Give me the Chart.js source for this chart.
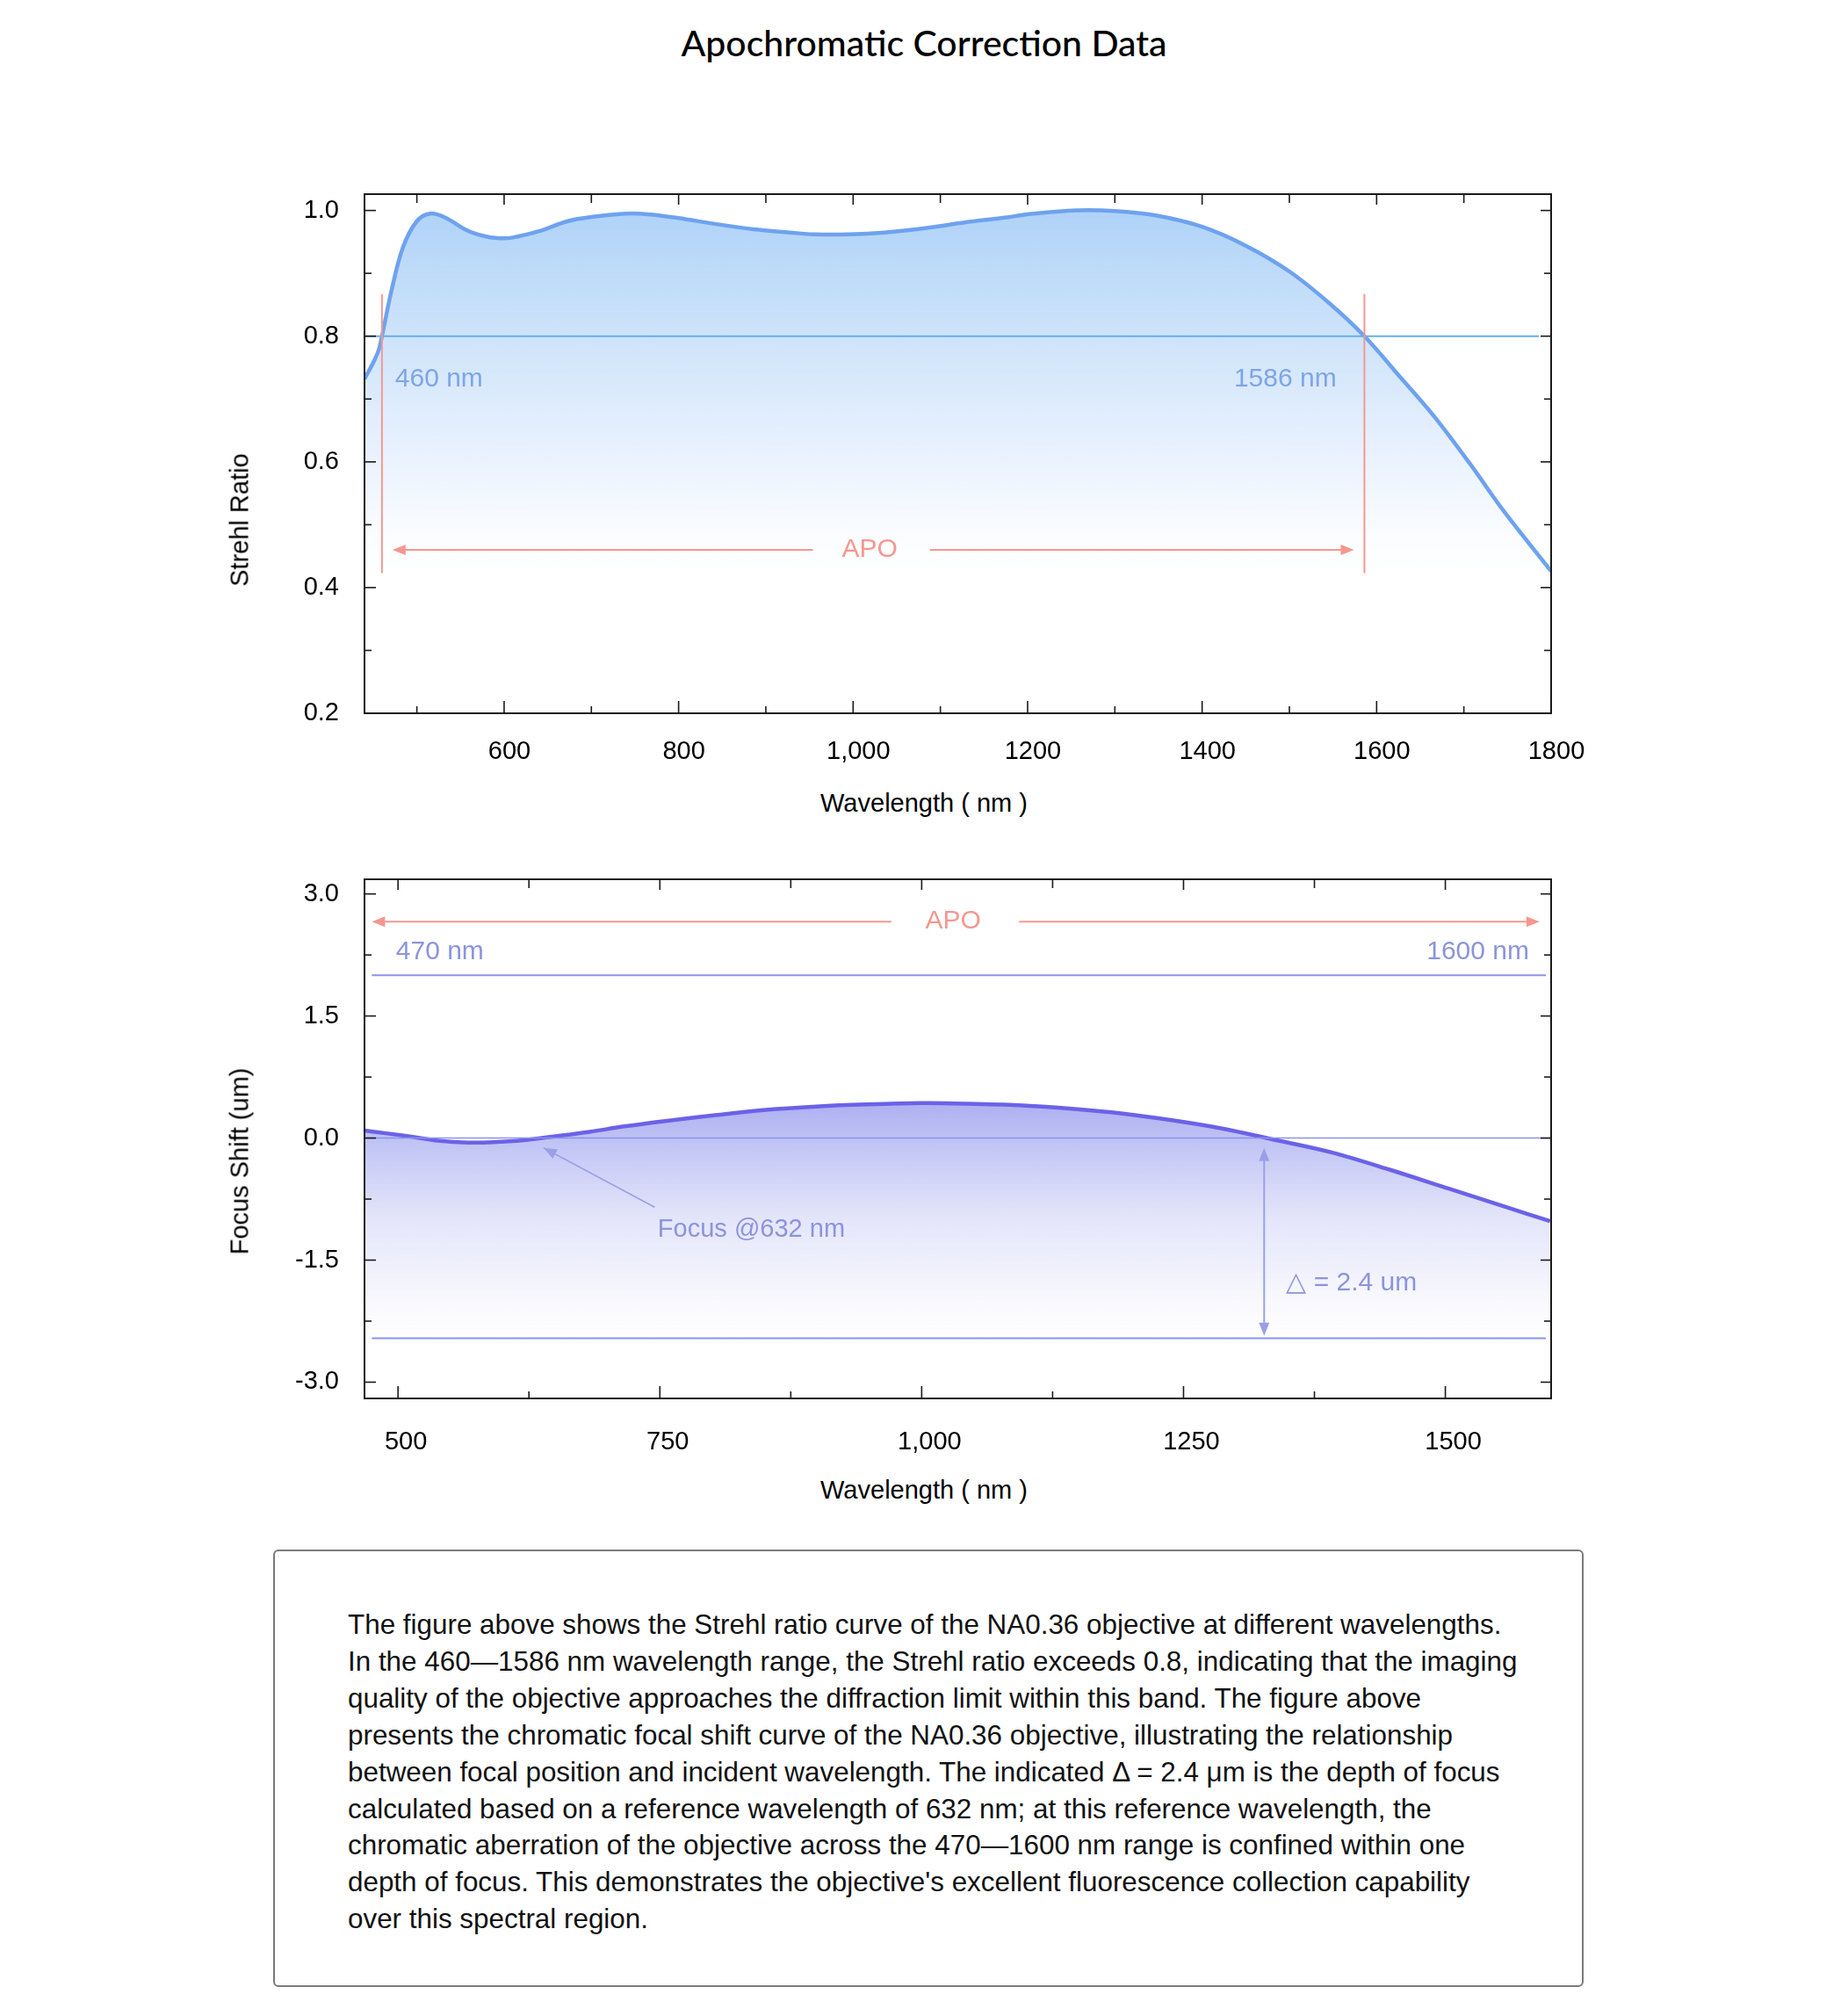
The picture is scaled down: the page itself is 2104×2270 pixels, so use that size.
<!DOCTYPE html>
<html>
<head>
<meta charset="utf-8">
<title>Apochromatic Correction Data</title>
<script src="https://cdn.jsdelivr.net/npm/chart.js@4.4.1/dist/chart.umd.min.js"></script>
<style>
  html, body { margin: 0; padding: 0; background: #fff; }
  body { width: 2104px; height: 2270px; position: relative; overflow: hidden; font-family: "Liberation Sans", Arial, sans-serif; color: #000; }
  .title { position: absolute; left: 0; width: 2104px; top: 24px; text-align: center; font-family: Lato, "Noto Sans", sans-serif; font-size: 41px; font-weight: 500; }
  canvas { position: absolute; left: 0; }
  .xtitle { position: absolute; left: 0; width: 2104px; text-align: center; font-size: 29px; }
  .ytitle { position: absolute; font-size: 29px; white-space: nowrap; transform: translate(-50%, -50%) rotate(-90deg); }
  .note { position: absolute; left: 311px; top: 1764px; width: 1492px; height: 498px; border: 2px solid #7a7a7a; border-radius: 6px; box-sizing: border-box; padding: 63px 0 0 83px; font-size: 31.4px; line-height: 41.9px; color: #111; white-space: nowrap; }
</style>
</head>
<body>
<div class="title">Apochromatic Correction Data</div>

<canvas id="strehl" width="2104" height="732" style="top:150px"></canvas>
<div class="ytitle" style="left:273px; top:592px">Strehl Ratio</div>
<div class="xtitle" style="top:898px">Wavelength ( nm )</div>

<canvas id="focus" width="2104" height="732" style="top:930px"></canvas>
<div class="ytitle" style="left:273px; top:1322px">Focus Shift (um)</div>
<div class="xtitle" style="top:1680px">Wavelength ( nm )</div>

<div class="note">
The figure above shows the Strehl ratio curve of the NA0.36 objective at different wavelengths.<br>
In the 460—1586 nm wavelength range, the Strehl ratio exceeds 0.8, indicating that the imaging<br>
quality of the objective approaches the diffraction limit within this band. The figure above<br>
presents the chromatic focal shift curve of the NA0.36 objective, illustrating the relationship<br>
between focal position and incident wavelength. The indicated Δ = 2.4 μm is the depth of focus<br>
calculated based on a reference wavelength of 632 nm; at this reference wavelength, the<br>
chromatic aberration of the objective across the 470—1600 nm range is confined within one<br>
depth of focus. This demonstrates the objective's excellent fluorescence collection capability<br>
over this spectral region.
</div>

<script>
// Strehl ratio vs wavelength
var strehlWavelengths = [440, 450, 456, 460, 471, 484, 500, 515, 532, 558, 575, 592, 610, 640, 673, 702, 739, 765, 800, 840, 886, 927, 955, 996, 1036, 1088, 1128, 1176, 1200, 1256, 1300, 1347, 1400, 1450, 1500, 1547, 1586, 1627, 1665, 1707, 1745, 1800];
var strehlValues = [0.732, 0.758, 0.777, 0.800, 0.873, 0.941, 0.983, 0.995, 0.989, 0.968, 0.960, 0.956, 0.957, 0.967, 0.983, 0.990, 0.995, 0.994, 0.988, 0.979, 0.970, 0.965, 0.962, 0.962, 0.965, 0.973, 0.981, 0.989, 0.994, 1.000, 0.999, 0.992, 0.974, 0.944, 0.903, 0.851, 0.800, 0.735, 0.674, 0.597, 0.523, 0.426];

// focus shift (um) vs wavelength
var focusWavelengths = [468, 490, 514, 538, 567, 591, 620, 649, 683, 716, 755, 803, 851, 899, 947, 1000, 1042, 1093, 1141, 1192, 1239, 1287, 1333, 1392, 1448, 1504, 1560, 1600];
var focusValues = [0.092, 0.056, 0.015, -0.031, -0.056, -0.051, -0.026, 0.020, 0.077, 0.143, 0.209, 0.281, 0.347, 0.388, 0.413, 0.429, 0.423, 0.403, 0.362, 0.301, 0.219, 0.117, -0.010, -0.178, -0.393, -0.625, -0.857, -1.020];

// ticks
var strehlXTicks = [600, 800, 1000, 1200, 1400, 1600, 1800];
var strehlXTickLabels = ['600', '800', '1,000', '1200', '1400', '1600', '1800'];
var strehlXMinorTicks = [500, 700, 900, 1100, 1300, 1500, 1700];
var strehlYTicks = [0.2, 0.4, 0.6, 0.8, 1.0];
var strehlYTickLabels = ['0.2', '0.4', '0.6', '0.8', '1.0'];
var strehlYMinorTicks = [0.3, 0.5, 0.7, 0.9];

var focusXTicks = [500, 750, 1000, 1250, 1500];
var focusXTickLabels = ['500', '750', '1,000', '1250', '1500'];
var focusXMinorTicks = [625, 875, 1125, 1375];
var focusYTicks = [-3, -1.5, 0, 1.5, 3];
var focusYTickLabels = ['-3.0', '-1.5', '0.0', '1.5', '3.0'];
var focusYMinorTicks = [-2.25, -0.75, 0.75, 2.25];

// annotation values
var strehlLimit = 0.8;
var strehlApoBand = [460, 1586];
var focusApoBand = [470, 1600];
var focusDepth = [2.0, -2.46];
var focusRefWavelength = 632;

var RED = '#f59790';
var FONT = '"Liberation Sans", Arial, sans-serif';

function toPoints(xs, ys) {
  return xs.map(function (x, i) { return { x: x, y: ys[i] }; });
}

function hLine(c, x1, x2, y, color, w) {
  c.beginPath();
  c.strokeStyle = color;
  c.lineWidth = w;
  c.moveTo(x1, y);
  c.lineTo(x2, y);
  c.stroke();
}

function vLine(c, x, y1, y2, color, w) {
  c.beginPath();
  c.strokeStyle = color;
  c.lineWidth = w;
  c.moveTo(x, y1);
  c.lineTo(x, y2);
  c.stroke();
}

function arrowHead(c, x, y, angle, color) {
  var len = 15, half = 6;
  c.save();
  c.translate(x, y);
  c.rotate(angle);
  c.beginPath();
  c.fillStyle = color;
  c.moveTo(0, 0);
  c.lineTo(-len, -half);
  c.lineTo(-len, half);
  c.closePath();
  c.fill();
  c.restore();
}

function label(c, text, x, y, color, align, size) {
  c.fillStyle = color;
  c.font = (size || 30) + 'px ' + FONT;
  c.textAlign = align;
  c.textBaseline = 'middle';
  c.fillText(text, x, y);
}

// frame and inward ticks on all four sides
function drawFrame(chart, t) {
  var c = chart.ctx, a = chart.chartArea;
  var xs = chart.scales.x, ys = chart.scales.y;
  c.save();
  c.strokeStyle = '#1a1a1a';
  c.lineWidth = 2;
  c.strokeRect(a.left, a.top, a.right - a.left, a.bottom - a.top);
  t.xMajor.forEach(function (v) {
    var p = xs.getPixelForValue(v);
    vLine(c, p, a.bottom, a.bottom - 14, '#1a1a1a', 1.6);
    vLine(c, p, a.top, a.top + 12, '#1a1a1a', 1.6);
  });
  t.xMinor.forEach(function (v) {
    var p = xs.getPixelForValue(v);
    vLine(c, p, a.bottom, a.bottom - 8, '#1a1a1a', 1.6);
    vLine(c, p, a.top, a.top + 10, '#1a1a1a', 1.6);
  });
  t.yMajor.forEach(function (v) {
    var p = ys.getPixelForValue(v);
    hLine(c, a.left, a.left + 13, p, '#1a1a1a', 1.6);
    hLine(c, a.right, a.right - 12, p, '#1a1a1a', 1.6);
  });
  t.yMinor.forEach(function (v) {
    var p = ys.getPixelForValue(v);
    hLine(c, a.left, a.left + 8, p, '#1a1a1a', 1.6);
    hLine(c, a.right, a.right - 8, p, '#1a1a1a', 1.6);
  });
  c.restore();
}

function drawStrehlNotes(chart) {
  var c = chart.ctx, a = chart.chartArea;
  var xs = chart.scales.x, ys = chart.scales.y;
  var X = function (v) { return xs.getPixelForValue(v); };
  var Y = function (v) { return ys.getPixelForValue(v); };
  c.save();
  hLine(c, a.left, X(1786), Y(strehlLimit), '#62b0f0', 2);
  strehlApoBand.forEach(function (w) {
    vLine(c, X(w), Y(0.867), Y(0.423), RED, 2);
  });
  var ay = Y(0.46);
  hLine(c, X(475), X(954), ay, RED, 2);
  hLine(c, X(1088), X(1570), ay, RED, 2);
  arrowHead(c, X(472), ay, Math.PI, RED);
  arrowHead(c, X(1574), ay, 0, RED);
  label(c, 'APO', X(1019), ay, RED, 'center');
  label(c, strehlApoBand[0] + ' nm', X(475), Y(0.732), '#7ea5e6', 'left');
  label(c, strehlApoBand[1] + ' nm', X(1554), Y(0.732), '#7ea5e6', 'right');
  c.restore();
}

function drawFocusNotes(chart) {
  var c = chart.ctx, a = chart.chartArea;
  var xs = chart.scales.x, ys = chart.scales.y;
  var X = function (v) { return xs.getPixelForValue(v); };
  var Y = function (v) { return ys.getPixelForValue(v); };
  var lav = '#8c93ea', txt = '#8c94dc';
  c.save();
  hLine(c, a.left, a.right, Y(0), lav, 1.6);
  hLine(c, X(475), X(1596), Y(focusDepth[0]), lav, 2);
  hLine(c, X(475), X(1596), Y(focusDepth[1]), lav, 2);

  var ay = Y(2.66);
  hLine(c, X(478), X(971), ay, RED, 2);
  hLine(c, X(1093), X(1586), ay, RED, 2);
  arrowHead(c, X(475), ay, Math.PI, RED);
  arrowHead(c, X(1590), ay, 0, RED);
  label(c, 'APO', X(1030), ay, RED, 'center');
  label(c, focusApoBand[0] + ' nm', X(498), Y(2.29), txt, 'left');
  label(c, focusApoBand[1] + ' nm', X(1580), Y(2.29), txt, 'right');

  // pointer to the reference wavelength focus
  var tx = X(639), ty = Y(-0.12), sx = X(745), sy = Y(-0.85);
  c.beginPath();
  c.strokeStyle = '#9aa0e6';
  c.lineWidth = 1.6;
  c.moveTo(sx, sy);
  c.lineTo(tx, ty);
  c.stroke();
  arrowHead(c, tx, ty, Math.atan2(ty - sy, tx - sx), '#9aa0e6');
  label(c, 'Focus @' + focusRefWavelength + ' nm', X(748), Y(-1.13), txt, 'left', 29);

  // depth of focus double arrow
  var dx = X(1327);
  vLine(c, dx, Y(-0.17), Y(-2.38), '#9aa0e6', 2);
  arrowHead(c, dx, Y(-0.12), -Math.PI / 2, '#9aa0e6');
  arrowHead(c, dx, Y(-2.43), Math.PI / 2, '#9aa0e6');
  label(c, '△ = 2.4 um', X(1348), Y(-1.78), txt, 'left');
  c.restore();
}

function makeChart(id, cfg) {
  var ctx = document.getElementById(id);
  return new Chart(ctx, {
    type: 'line',
    data: {
      datasets: [{
        data: toPoints(cfg.xs, cfg.ys),
        borderColor: cfg.lineColor,
        borderWidth: 4.5,
        pointRadius: 0,
        tension: 0.35,
        fill: 'start',
        backgroundColor: function (context) {
          var chart = context.chart;
          if (!chart.chartArea) return 'rgba(0,0,0,0)';
          var ys = chart.scales.y;
          var g = chart.ctx.createLinearGradient(0, ys.getPixelForValue(cfg.gradTop), 0, ys.getPixelForValue(cfg.gradBottom));
          cfg.gradStops.forEach(function (s) { g.addColorStop(s[0], s[1]); });
          return g;
        }
      }]
    },
    options: {
      responsive: false,
      devicePixelRatio: 1,
      animation: false,
      layout: { padding: { top: 71, left: 315, right: 338, bottom: 0 } },
      plugins: { legend: { display: false }, tooltip: { enabled: false } },
      scales: {
        x: {
          type: 'linear',
          min: cfg.xMin,
          max: cfg.xMax,
          grid: { display: false, drawTicks: false },
          border: { display: false },
          afterBuildTicks: function (axis) { axis.ticks = cfg.xTicks.map(function (v) { return { value: v }; }); },
          afterFit: function (axis) { axis.height = 70; },
          ticks: {
            autoSkip: false,
            maxRotation: 0,
            padding: cfg.xPad,
            labelOffset: cfg.xShift,
            color: '#000',
            font: { family: FONT, size: 29 },
            callback: function (v, i) { return cfg.xLabels[i]; }
          }
        },
        y: {
          type: 'linear',
          min: cfg.yMin,
          max: cfg.yMax,
          grid: { display: false, drawTicks: false },
          border: { display: false },
          afterBuildTicks: function (axis) { axis.ticks = cfg.yTicks.map(function (v) { return { value: v }; }); },
          afterFit: function (axis) { axis.width = 100; },
          ticks: {
            padding: 29,
            color: '#000',
            font: { family: FONT, size: 29 },
            callback: function (v, i) { return cfg.yLabels[i]; }
          }
        }
      }
    },
    plugins: [{
      id: 'notes',
      afterDatasetsDraw: function (chart) { cfg.notes(chart); },
      afterDraw: function (chart) {
        drawFrame(chart, { xMajor: cfg.xTicks, xMinor: cfg.xMinor, yMajor: cfg.yTicks, yMinor: cfg.yMinor });
      }
    }]
  });
}

makeChart('strehl', {
  xs: strehlWavelengths, ys: strehlValues,
  xMin: 440, xMax: 1800, yMin: 0.2, yMax: 1.026,
  xTicks: strehlXTicks, xLabels: strehlXTickLabels, xMinor: strehlXMinorTicks,
  yTicks: strehlYTicks, yLabels: strehlYTickLabels, yMinor: strehlYMinorTicks,
  xPad: 27, xShift: 6,
  lineColor: '#6ea2ef',
  gradTop: 1.0, gradBottom: 0.38,
  gradStops: [[0, 'rgba(170,208,247,0.95)'], [0.35, 'rgba(200,224,250,0.85)'], [0.7, 'rgba(235,243,254,0.8)'], [1, 'rgba(255,255,255,0)']],
  notes: drawStrehlNotes
});

makeChart('focus', {
  xs: focusWavelengths, ys: focusValues,
  xMin: 468, xMax: 1601, yMin: -3.2, yMax: 3.18,
  xTicks: focusXTicks, xLabels: focusXTickLabels, xMinor: focusXMinorTicks,
  yTicks: focusYTicks, yLabels: focusYTickLabels, yMinor: focusYMinorTicks,
  xPad: 33, xShift: 9,
  lineColor: '#6b62e8',
  gradTop: 0.45, gradBottom: -2.7,
  gradStops: [[0, 'rgba(168,170,240,0.95)'], [0.15, 'rgba(184,188,243,0.9)'], [0.45, 'rgba(222,224,249,0.85)'], [0.75, 'rgba(244,244,253,0.8)'], [1, 'rgba(255,255,255,0)']],
  notes: drawFocusNotes
});
</script>
</body>
</html>
